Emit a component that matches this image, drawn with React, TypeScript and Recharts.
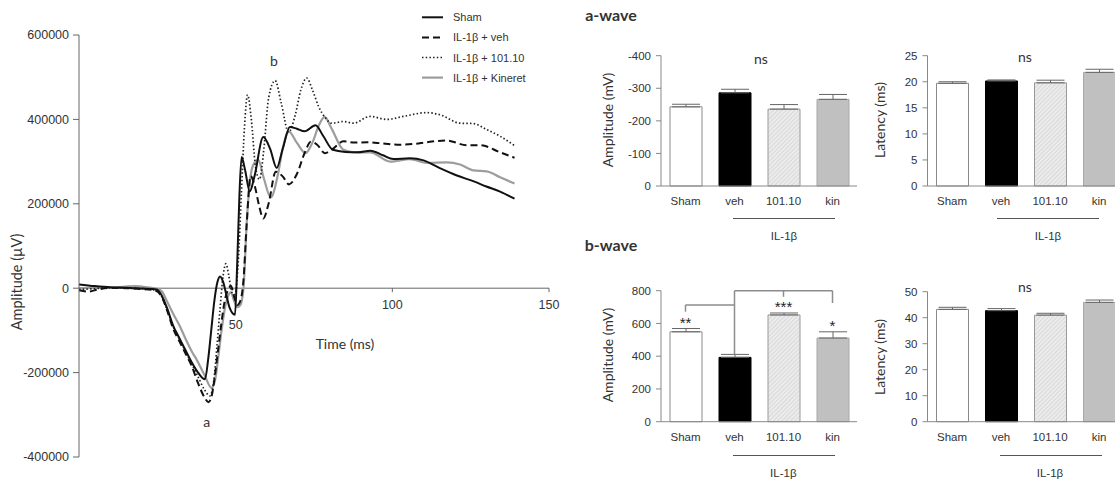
import React from 'react'
import {
  LineChart, Line, XAxis, YAxis, ReferenceLine, ReferenceDot,
  BarChart, Bar, Cell, ErrorBar,
} from 'recharts'

// ERG traces (time in ms, amplitude in µV)
const shamT = [0, 5, 10, 15, 20, 24.8, 26, 28, 30, 32, 34, 36, 38, 40.2, 41.2, 42.2, 43.2, 44.2, 45, 46, 47, 48, 49.8, 50.5, 51.2, 51.9, 53, 54.5, 56, 58.8, 61, 63.1, 65, 67.3, 69.5, 72, 75.5, 78, 81, 85, 89, 93, 97, 100.3, 105.6, 110, 115, 120.6, 126, 130, 134.4, 139]
const shamV = [9000, 5000, 2000, 1000, -1000, -3000, -12000, -45000, -88000, -118000, -147000, -176000, -200000, -216000, -170000, -100000, -30000, 15000, 28000, 15000, -15000, -45000, -63000, 60000, 220000, 311000, 280000, 229000, 265000, 358000, 330000, 285000, 330000, 382000, 378000, 372000, 386000, 360000, 328000, 323000, 322000, 326000, 315000, 306000, 308000, 303000, 285000, 267000, 253000, 241000, 229000, 212000]

const vehT = [0, 3, 6, 10, 15, 20, 24, 26, 28, 30, 32, 34, 36, 38, 40, 41.3, 42.5, 43.5, 44.5, 45.5, 46.5, 47.5, 48.5, 49.5, 50.5, 51.5, 52.5, 53.5, 54.8, 56, 57.5, 58.8, 60.5, 62.8, 65, 67, 69.5, 72, 74, 76, 78.5, 81, 84.4, 88, 92, 97, 102.5, 107, 111, 117.3, 123.7, 128, 134.4, 139]
const vehV = [-5000, -8000, -3000, 1000, 0, -2000, -5000, -15000, -50000, -95000, -125000, -155000, -185000, -225000, -258000, -270000, -250000, -200000, -140000, -80000, -30000, -5000, 5000, -20000, -40000, -30000, 20000, 150000, 266000, 245000, 195000, 165000, 200000, 276000, 265000, 246000, 270000, 320000, 347000, 340000, 320000, 330000, 348000, 345000, 346000, 343000, 340000, 342000, 346000, 350000, 339000, 339000, 322000, 309000]

const cmpT = [0, 5, 10, 15, 20, 24, 26, 28, 30, 32, 34, 36, 38, 40, 41.8, 43, 44, 45, 46, 46.9, 47.8, 48.8, 49.8, 50.8, 51.8, 52.8, 53.8, 55, 56.3, 57.6, 59, 60.5, 62.6, 64.5, 66.9, 69, 70.8, 72.7, 74.5, 76.5, 78.5, 80.6, 84.4, 87.6, 92.9, 98.2, 103.5, 111, 115.2, 121.6, 125.9, 130.1, 134.4, 139]
const cmpV = [-3000, -1000, 1000, 0, -1000, -4000, -15000, -48000, -90000, -120000, -150000, -180000, -210000, -240000, -255000, -220000, -140000, -50000, 30000, 58000, 30000, -10000, -15000, 60000, 220000, 380000, 458000, 400000, 290000, 258000, 330000, 450000, 492000, 440000, 370000, 410000, 470000, 498000, 470000, 430000, 405000, 391000, 395000, 391000, 407000, 400000, 407000, 416000, 411000, 391000, 390000, 376000, 360000, 338000]

const kinT = [0, 5, 10, 15, 18, 22, 25, 26.5, 28, 30, 32.2, 34, 36, 37.6, 40, 42.3, 43.5, 44.5, 45.5, 46.5, 47.5, 48.5, 49.5, 50.5, 51.5, 52.5, 53.5, 54.5, 55.5, 57.2, 59, 61.2, 63.5, 65, 67, 69.5, 72.3, 74.5, 76.5, 78.4, 80.5, 84.4, 88, 92.9, 99.3, 105.6, 111, 117.4, 121.6, 125.9, 130.1, 134.4, 139]
const kinV = [0, 1000, 1000, 4000, 5000, 2000, -2000, -8000, -30000, -60000, -90000, -120000, -150000, -170000, -205000, -236000, -215000, -160000, -100000, -50000, -20000, -10000, -30000, -45000, -40000, 0, 150000, 250000, 290000, 304000, 260000, 215000, 270000, 330000, 371000, 345000, 320000, 345000, 385000, 406000, 380000, 328000, 322000, 322000, 300000, 306000, 297000, 298000, 293000, 279000, 277000, 263000, 248000]

const ampTicks = [-400000, -200000, 0, 200000, 400000, 600000]
const timeTicks = [50, 100, 150]

// bar panels
const groups = ['Sham', 'veh', '101.10', 'kin']
const aAmp = [-243, -286, -236, -266]
const aAmpErr = [8, 11, 14, 15]
const aLat = [19.7, 20.15, 19.8, 21.8]
const aLatErr = [0.3, 0.2, 0.5, 0.6]
const bAmp = [549, 393, 652, 511]
const bAmpErr = [20, 18, 12, 38]
const bLat = [43.2, 42.7, 41.0, 45.9]
const bLatErr = [0.8, 0.8, 0.7, 0.9]

const axisGrey = '#666'
const textGrey = '#333'
const zip = (ts: number[], vs: number[]) => ts.map((t, i) => ({ t, v: vs[i] }))

const traces = [
  { name: 'IL-1β + Kineret', data: zip(kinT, kinV), stroke: '#9d9d9d', width: 2.2, dash: undefined as string | undefined },
  { name: 'IL-1β + 101.10', data: zip(cmpT, cmpV), stroke: '#222', width: 1.7, dash: '1.5 2.2' },
  { name: 'IL-1β + veh', data: zip(vehT, vehV), stroke: '#111', width: 2, dash: '7 4' },
  { name: 'Sham', data: zip(shamT, shamV), stroke: '#111', width: 2, dash: undefined as string | undefined },
]
const legendOrder = ['Sham', 'IL-1β + veh', 'IL-1β + 101.10', 'IL-1β + Kineret']

const Txt = ({ x, y, children, size = 14, rotate = 0, bold = false, font = 'Lato, sans-serif' }: any) => (
  <div
    style={{
      position: 'absolute', left: x, top: y, whiteSpace: 'nowrap', fontSize: size, fontFamily: font,
      fontWeight: bold ? 700 : 400, color: textGrey, lineHeight: 1,
      transform: `translate(-50%, -50%) rotate(${rotate}deg)`,
    }}
  >
    {children}
  </div>
)

const HLine = ({ x1, x2, y }: any) => (
  <div style={{ position: 'absolute', left: x1, top: y, width: x2 - x1, height: 1, background: '#555' }} />
)

const fills = (id: string) => ['#ffffff', '#000000', `url(#hatch-${id})`, '#c0c0c0']
const strokes = ['#8a8a8a', '#000000', '#9a9a9a', '#a8a8a8']

function BarPanel(p: any) {
  const data = groups.map((g, i) => ({ g, v: p.values[i], e: p.reversed ? [p.errs[i], 0] : [0, p.errs[i]] }))
  const yw = 40
  const margin = {
    top: p.plot.t - p.top,
    bottom: p.top + p.height - p.plot.b - 30,
    left: p.plot.l - p.left - yw,
    right: p.left + p.width - p.plot.r,
  }
  return (
    <div style={{ position: 'absolute', left: p.left, top: p.top }}>
      <BarChart width={p.width} height={p.height} data={data} margin={margin}>
        <defs>
          <pattern id={`hatch-${p.id}`} patternUnits="userSpaceOnUse" width="3" height="3" patternTransform="rotate(45)">
            <rect width="3" height="3" fill="#ececec" />
            <line x1="0" y1="0" x2="0" y2="3" stroke="#c4c4c4" strokeWidth="1" />
          </pattern>
        </defs>
        <XAxis
          dataKey="g" height={30} tickLine={false} tickSize={0} tickMargin={11}
          axisLine={{ stroke: '#888' }} tick={{ fill: textGrey, fontSize: 11.5 }} interval={0}
        />
        <YAxis
          width={yw} domain={p.domain} ticks={p.ticks} reversed={p.reversed} interval={0}
          tickSize={5} tickMargin={5} axisLine={{ stroke: '#888' }} tickLine={{ stroke: '#888' }}
          tick={{ fill: textGrey, fontSize: 11.5 }}
        />
        <Bar dataKey="v" barSize={32} isAnimationActive={false}>
          {data.map((d, i) => (
            <Cell key={d.g} fill={fills(p.id)[i]} stroke={strokes[i]} strokeWidth={1} />
          ))}
          <ErrorBar dataKey="e" width={14} stroke="#666" strokeWidth={1} direction="y" />
        </Bar>
        {p.children}
      </BarChart>
    </div>
  )
}

const bracket = '#8c8c8c'

export default function App() {
  return (
    <div
      style={{
        position: 'absolute', left: 0, top: 0, width: 1115, height: 481, overflow: 'hidden',
        background: '#fff', fontFamily: '"Liberation Sans", Arial, sans-serif',
      }}
    >
      {/* ERG traces */}
      <div style={{ position: 'absolute', left: 0, top: 0 }}>
        <LineChart width={560} height={481} margin={{ top: 35, right: 11, bottom: 24, left: 19 }}>
          <XAxis type="number" dataKey="t" domain={[0, 150]} hide />
          <YAxis
            type="number" domain={[-400000, 600000]} ticks={ampTicks} interval={0} width={60}
            tickSize={6} tickMargin={4} axisLine={{ stroke: axisGrey }} tickLine={{ stroke: axisGrey }}
            tick={{ fill: textGrey, fontSize: 12.5 }}
          />
          <ReferenceLine y={0} stroke={axisGrey} />
          {timeTicks.map((t) => (
            <ReferenceLine
              key={t}
              segment={[{ x: t, y: 0 }, { x: t, y: -9500 }]}
              stroke={axisGrey}
              ifOverflow="visible"
              label={{ value: String(t), position: 'bottom', offset: t === 50 ? 28 : 8, fill: textGrey, fontSize: 12.5 }}
            />
          ))}
          {traces.map((s) => (
            <Line
              key={s.name}
              data={s.data}
              dataKey="v"
              name={s.name}
              type="monotone"
              stroke={s.stroke}
              strokeWidth={s.width}
              strokeDasharray={s.dash}
              dot={false}
              activeDot={false}
              isAnimationActive={false}
            />
          ))}
        </LineChart>
      </div>
      <Txt x={16.5} y={282} rotate={-90} size={14.5}>Amplitude (µV)</Txt>
      <Txt x={345} y={344}>Time (ms)</Txt>
      <Txt x={206.7} y={422}>a</Txt>
      <Txt x={274} y={61}>b</Txt>

      {/* legend */}
      <svg style={{ position: 'absolute', left: 415, top: 5 }} width={145} height={85}>
        {legendOrder.map((name, i) => {
          const s = traces.find((x) => x.name === name)!
          const y = 12.3 + i * 20.1
          return (
            <g key={name}>
              <line x1={7} x2={28} y1={y} y2={y} stroke={s.stroke} strokeWidth={s.width} strokeDasharray={s.dash} />
              <text x={38} y={y + 4} fontSize={11} fill={textGrey} fontFamily='"Liberation Sans", Arial, sans-serif'>{name}</text>
            </g>
          )
        })}
      </svg>

      {/* titles */}
      <Txt x={611} y={15} size={16} bold>a-wave</Txt>
      <Txt x={611} y={245} size={16} bold>b-wave</Txt>

      {/* a-wave amplitude */}
      <BarPanel
        id="aa" left={580} top={40} width={290} height={200}
        plot={{ l: 661, r: 857, t: 55.7, b: 186 }}
        values={aAmp} errs={aAmpErr} domain={[-400, 0]} ticks={[-400, -300, -200, -100, 0]} reversed
      />
      <Txt x={608.3} y={120} rotate={-90}>Amplitude (mV)</Txt>
      <Txt x={761} y={59}>ns</Txt>
      <HLine x1={732.7} x2={835.3} y={218} />
      <Txt x={784} y={237} size={11.5} font='"Liberation Sans", Arial, sans-serif'>IL-1β</Txt>

      {/* a-wave latency */}
      <BarPanel
        id="al" left={870} top={40} width={260} height={200}
        plot={{ l: 927.5, r: 1123.5, t: 55.7, b: 186 }}
        values={aLat} errs={aLatErr} domain={[0, 25]} ticks={[0, 5, 10, 15, 20, 25]}
      />
      <Txt x={880} y={120} rotate={-90}>Latency (ms)</Txt>
      <Txt x={1025} y={57.3}>ns</Txt>
      <HLine x1={996.7} x2={1099.3} y={218} />
      <Txt x={1048} y={237} size={11.5} font='"Liberation Sans", Arial, sans-serif'>IL-1β</Txt>

      {/* b-wave amplitude */}
      <BarPanel
        id="ba" left={580} top={270} width={290} height={210}
        plot={{ l: 661, r: 857, t: 290.7, b: 421.7 }}
        values={bAmp} errs={bAmpErr} domain={[0, 800]} ticks={[0, 200, 400, 600, 800]}
      >
        <ReferenceLine segment={[{ x: 'Sham', y: 713 }, { x: 'veh', y: 713 }]} stroke={bracket} strokeWidth={1.5} ifOverflow="visible" />
        <ReferenceLine segment={[{ x: 'Sham', y: 713 }, { x: 'Sham', y: 672 }]} stroke={bracket} strokeWidth={1.5} ifOverflow="visible" />
        <ReferenceLine segment={[{ x: 'veh', y: 800 }, { x: 'veh', y: 411 }]} stroke={bracket} strokeWidth={1.5} ifOverflow="visible" />
        <ReferenceLine segment={[{ x: 'veh', y: 800 }, { x: 'kin', y: 800 }]} stroke={bracket} strokeWidth={1.5} ifOverflow="visible" />
        <ReferenceLine segment={[{ x: '101.10', y: 800 }, { x: '101.10', y: 763 }]} stroke={bracket} strokeWidth={1.5} ifOverflow="visible" />
        <ReferenceLine segment={[{ x: 'kin', y: 800 }, { x: 'kin', y: 725 }]} stroke={bracket} strokeWidth={1.5} ifOverflow="visible" />
        {['**', '', '***', '*'].map((star, i) =>
          star ? (
            <ReferenceDot
              key={i} x={groups[i]} y={bAmp[i] + bAmpErr[i]} r={0} stroke="none" fill="none" ifOverflow="visible"
              label={{ value: star, position: 'top', offset: 1, fill: '#222', fontSize: 15 }}
            />
          ) : null,
        )}
      </BarPanel>
      <Txt x={608.3} y={355} rotate={-90}>Amplitude (mV)</Txt>
      <HLine x1={732.7} x2={835.3} y={455} />
      <Txt x={783.3} y={474} size={11.5} font='"Liberation Sans", Arial, sans-serif'>IL-1β</Txt>

      {/* b-wave latency */}
      <BarPanel
        id="bl" left={870} top={270} width={260} height={210}
        plot={{ l: 927.5, r: 1123.5, t: 291.7, b: 421.7 }}
        values={bLat} errs={bLatErr} domain={[0, 50]} ticks={[0, 10, 20, 30, 40, 50]}
      />
      <Txt x={880} y={356.7} rotate={-90}>Latency (ms)</Txt>
      <Txt x={1025} y={287.3}>ns</Txt>
      <HLine x1={1000} x2={1101.7} y={455} />
      <Txt x={1050} y={474} size={11.5} font='"Liberation Sans", Arial, sans-serif'>IL-1β</Txt>
    </div>
  )
}
